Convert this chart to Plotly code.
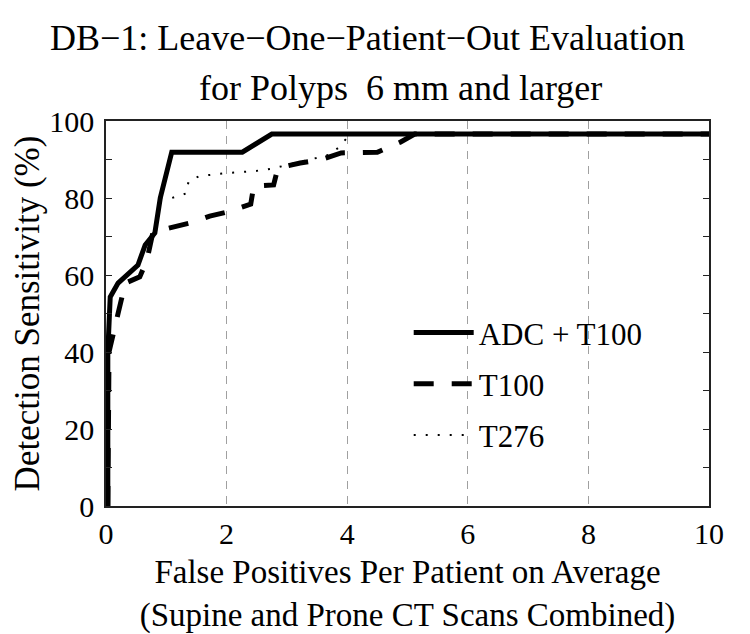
import plotly.graph_objects as go

# ---- data ----
adc_x = [0, 0.03, 0.03, 0.07, 0.20, 0.53, 0.65, 0.81, 0.90, 1.09, 2.26, 2.75, 10]
adc_y = [0, 0, 40, 54.3, 57.9, 62.6, 67.8, 70.9, 80, 91.9, 91.9, 96.6, 96.6]

t100_x = [0.03, 0.05, 0.20, 0.32, 0.56, 0.68, 0.78, 1.03, 1.39, 1.72, 2.02, 2.40, 2.45, 2.78, 2.85, 3.22, 3.55, 3.90, 4.25, 4.50, 4.88, 5.12, 10]
t100_y = [0, 40, 50, 57.9, 59.5, 63.9, 71.2, 72.2, 73.5, 75.3, 76.4, 78.4, 83.1, 83.4, 87.8, 89.1, 89.9, 91.7, 91.7, 91.9, 94.5, 96.6, 96.6]

t276_x = [0.03, 0.03, 0.07, 0.20, 0.53, 0.65, 0.81, 0.90, 1.09, 1.33, 1.37, 1.55, 2.02, 2.47, 2.75, 3.70, 3.85, 4.05, 10]
t276_y = [0, 40, 54.3, 57.9, 62.6, 67.8, 70.9, 80, 80, 81.2, 84.4, 85.7, 86.5, 87.0, 87.6, 91.2, 93.0, 96.6, 96.6]

series_names = ["ADC + T100", "T100", "T276"]

x_ticks = [0, 2, 4, 6, 8, 10]
y_tickvals = [0, 10, 20, 30, 40, 50, 60, 70, 80, 90, 100]
y_ticktext = ["0", "", "20", "", "40", "", "60", "", "80", "", "100"]

title_line1 = "DB\u22121: Leave\u2212One\u2212Patient\u2212Out Evaluation"
title_line2 = "for Polyps \u00a06 mm and larger"
x_title = "False Positives Per Patient on Average<br>(Supine and Prone CT Scans Combined)"
y_title = "Detection Sensitivity (%)"

FONT = "Liberation Serif"

fig = go.Figure()
fig.add_trace(go.Scatter(x=adc_x, y=adc_y, mode="lines", name=series_names[0],
                         legendgroup="a",
                         line=dict(color="black", width=5)))
fig.add_trace(go.Scatter(x=t100_x, y=t100_y, mode="lines", name=series_names[1],
                         legendgroup="b",
                         line=dict(color="black", width=5, dash="20px,18px")))
fig.add_trace(go.Scatter(x=t276_x, y=t276_y, mode="lines", name=series_names[2],
                         legendgroup="c",
                         line=dict(color="black", width=2, dash="2px,10px")))

# page body has an 8px default margin, so the figure is 8px smaller
fig.update_layout(
    width=742, height=626,
    margin=dict(l=98, r=41, t=113, b=128, autoexpand=False),
    paper_bgcolor="white", plot_bgcolor="white",
    font=dict(family=FONT, color="black", size=26),
    showlegend=True,
    legend=dict(x=0.502, y=0.52, xanchor="left", yanchor="top",
                bgcolor="rgba(0,0,0,0)", font=dict(size=31, family=FONT),
                tracegroupgap=8, itemwidth=60),
    annotations=[
        dict(text=title_line1, xref="paper", yref="paper", x=0.434, y=1.215,
             xanchor="center", yanchor="middle", showarrow=False,
             font=dict(size=36, family=FONT)),
        dict(text=title_line2, xref="paper", yref="paper", x=0.489, y=1.085,
             xanchor="center", yanchor="middle", showarrow=False,
             font=dict(size=36, family=FONT)),
    ],
)

fig.update_xaxes(range=[0, 10], tickvals=x_ticks, ticks="",
                 showgrid=True, gridcolor="#a0a0a0", gridwidth=1, griddash="8px,7px",
                 showline=True, linecolor="#222", linewidth=1.5, mirror=True,
                 zeroline=False, tickfont=dict(size=30), automargin=False,
                 title=dict(text=x_title, font=dict(size=33), standoff=21))
fig.update_yaxes(range=[0, 100], tickvals=y_tickvals, ticktext=y_ticktext,
                 ticks="inside", ticklen=6, tickcolor="#222",
                 showgrid=False, zeroline=False, automargin=False,
                 showline=True, linecolor="#222", linewidth=1.5, mirror="allticks",
                 tickfont=dict(size=30), ticklabelstandoff=4,
                 title=dict(text=y_title, font=dict(size=35), standoff=6))

fig.write_html("out.html")
